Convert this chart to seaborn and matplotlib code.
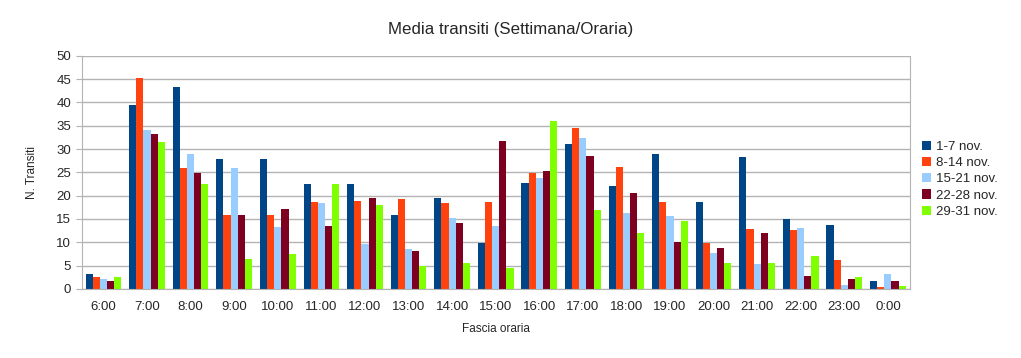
import pandas as pd
import matplotlib
matplotlib.use("Agg")
import matplotlib.pyplot as plt
import seaborn as sns
from matplotlib.ticker import FixedLocator, MultipleLocator

hours = ["6:00", "7:00", "8:00", "9:00", "10:00", "11:00", "12:00", "13:00", "14:00",
         "15:00", "16:00", "17:00", "18:00", "19:00", "20:00", "21:00", "22:00",
         "23:00", "0:00"]
periods = ["1-7 nov.", "8-14 nov.", "15-21 nov.", "22-28 nov.", "29-31 nov."]

week_1_7 = [3.3, 39.5, 43.4, 27.8, 27.8, 22.5, 22.5, 15.8, 19.6, 9.9,
            22.7, 31.0, 22.0, 29.0, 18.6, 28.2, 14.9, 13.7, 1.6]
week_8_14 = [2.6, 45.3, 26.0, 15.9, 15.9, 18.6, 18.9, 19.2, 18.5, 18.7,
             24.9, 34.5, 26.2, 18.7, 9.8, 12.8, 12.7, 6.2, 0.4]
week_15_21 = [2.1, 34.1, 29.0, 26.0, 13.3, 18.4, 9.7, 8.5, 15.2, 13.6,
              23.9, 32.3, 16.3, 15.6, 7.7, 5.4, 13.0, 0.8, 3.2]
week_22_28 = [1.8, 33.3, 24.9, 15.8, 17.1, 13.4, 19.5, 8.1, 14.2, 31.8,
              25.3, 28.6, 20.5, 10.0, 8.7, 11.9, 2.7, 2.1, 1.6]
week_29_31 = [2.5, 31.5, 22.5, 6.5, 7.5, 22.5, 18.0, 5.0, 5.5, 4.5,
              36.1, 17.0, 12.0, 14.5, 5.5, 5.5, 7.0, 2.5, 0.6]

colors = ["#004586", "#ff420e", "#99ccff", "#7e0021", "#7fff00"]

series = [week_1_7, week_8_14, week_15_21, week_22_28, week_29_31]
rows = []
for p, vals in zip(periods, series):
    for h, v in zip(hours, vals):
        rows.append({"Fascia oraria": h, "Periodo": p, "Valore": v})
df = pd.DataFrame(rows)

sns.set_style("white")
plt.rcParams["font.family"] = ["Liberation Sans", "DejaVu Sans"]

fig = plt.figure(figsize=(10.21, 3.58), dpi=100)
ax = fig.add_axes([0.080, 0.193, 0.811, 0.651])

sns.barplot(data=df, x="Fascia oraria", y="Valore", hue="Periodo",
            hue_order=periods, order=hours, palette=colors, saturation=1,
            width=0.82, errorbar=None, linewidth=0, ax=ax)

grey = "#b3b3b3"
ax.set_ylim(0, 50)
ax.set_xlim(-0.5, len(hours) - 0.5)
ax.yaxis.set_major_locator(MultipleLocator(5))
ax.grid(axis="y", color=grey, linewidth=1)
ax.set_axisbelow(True)
for s in ax.spines.values():
    s.set_color(grey)
ax.spines["top"].set_visible(False)

ax.xaxis.set_minor_locator(FixedLocator([i - 0.5 for i in range(len(hours) + 1)]))
ax.tick_params(axis="x", which="major", length=0, labelsize=9.5, pad=9)
ax.tick_params(axis="x", which="minor", length=5, color=grey, direction="out")
ax.tick_params(axis="y", length=4, color=grey, labelsize=9.5, left=True, direction="out")

# title is centred on the whole figure, not on the axes
ax.set_title("Media transiti (Settimana/Oraria)", fontsize=12.2, pad=16, x=0.518)
ax.set_xlabel("Fascia oraria", fontsize=8.5, labelpad=7)
ax.set_ylabel("N. Transiti", fontsize=8.5, labelpad=13)

ax.legend(loc="center left", bbox_to_anchor=(1.008, 0.47), frameon=False,
          fontsize=9.5, handlelength=0.7, handleheight=0.7, handletextpad=0.4,
          labelspacing=0.3, borderaxespad=0)

fig.savefig("out.png", dpi=100)
